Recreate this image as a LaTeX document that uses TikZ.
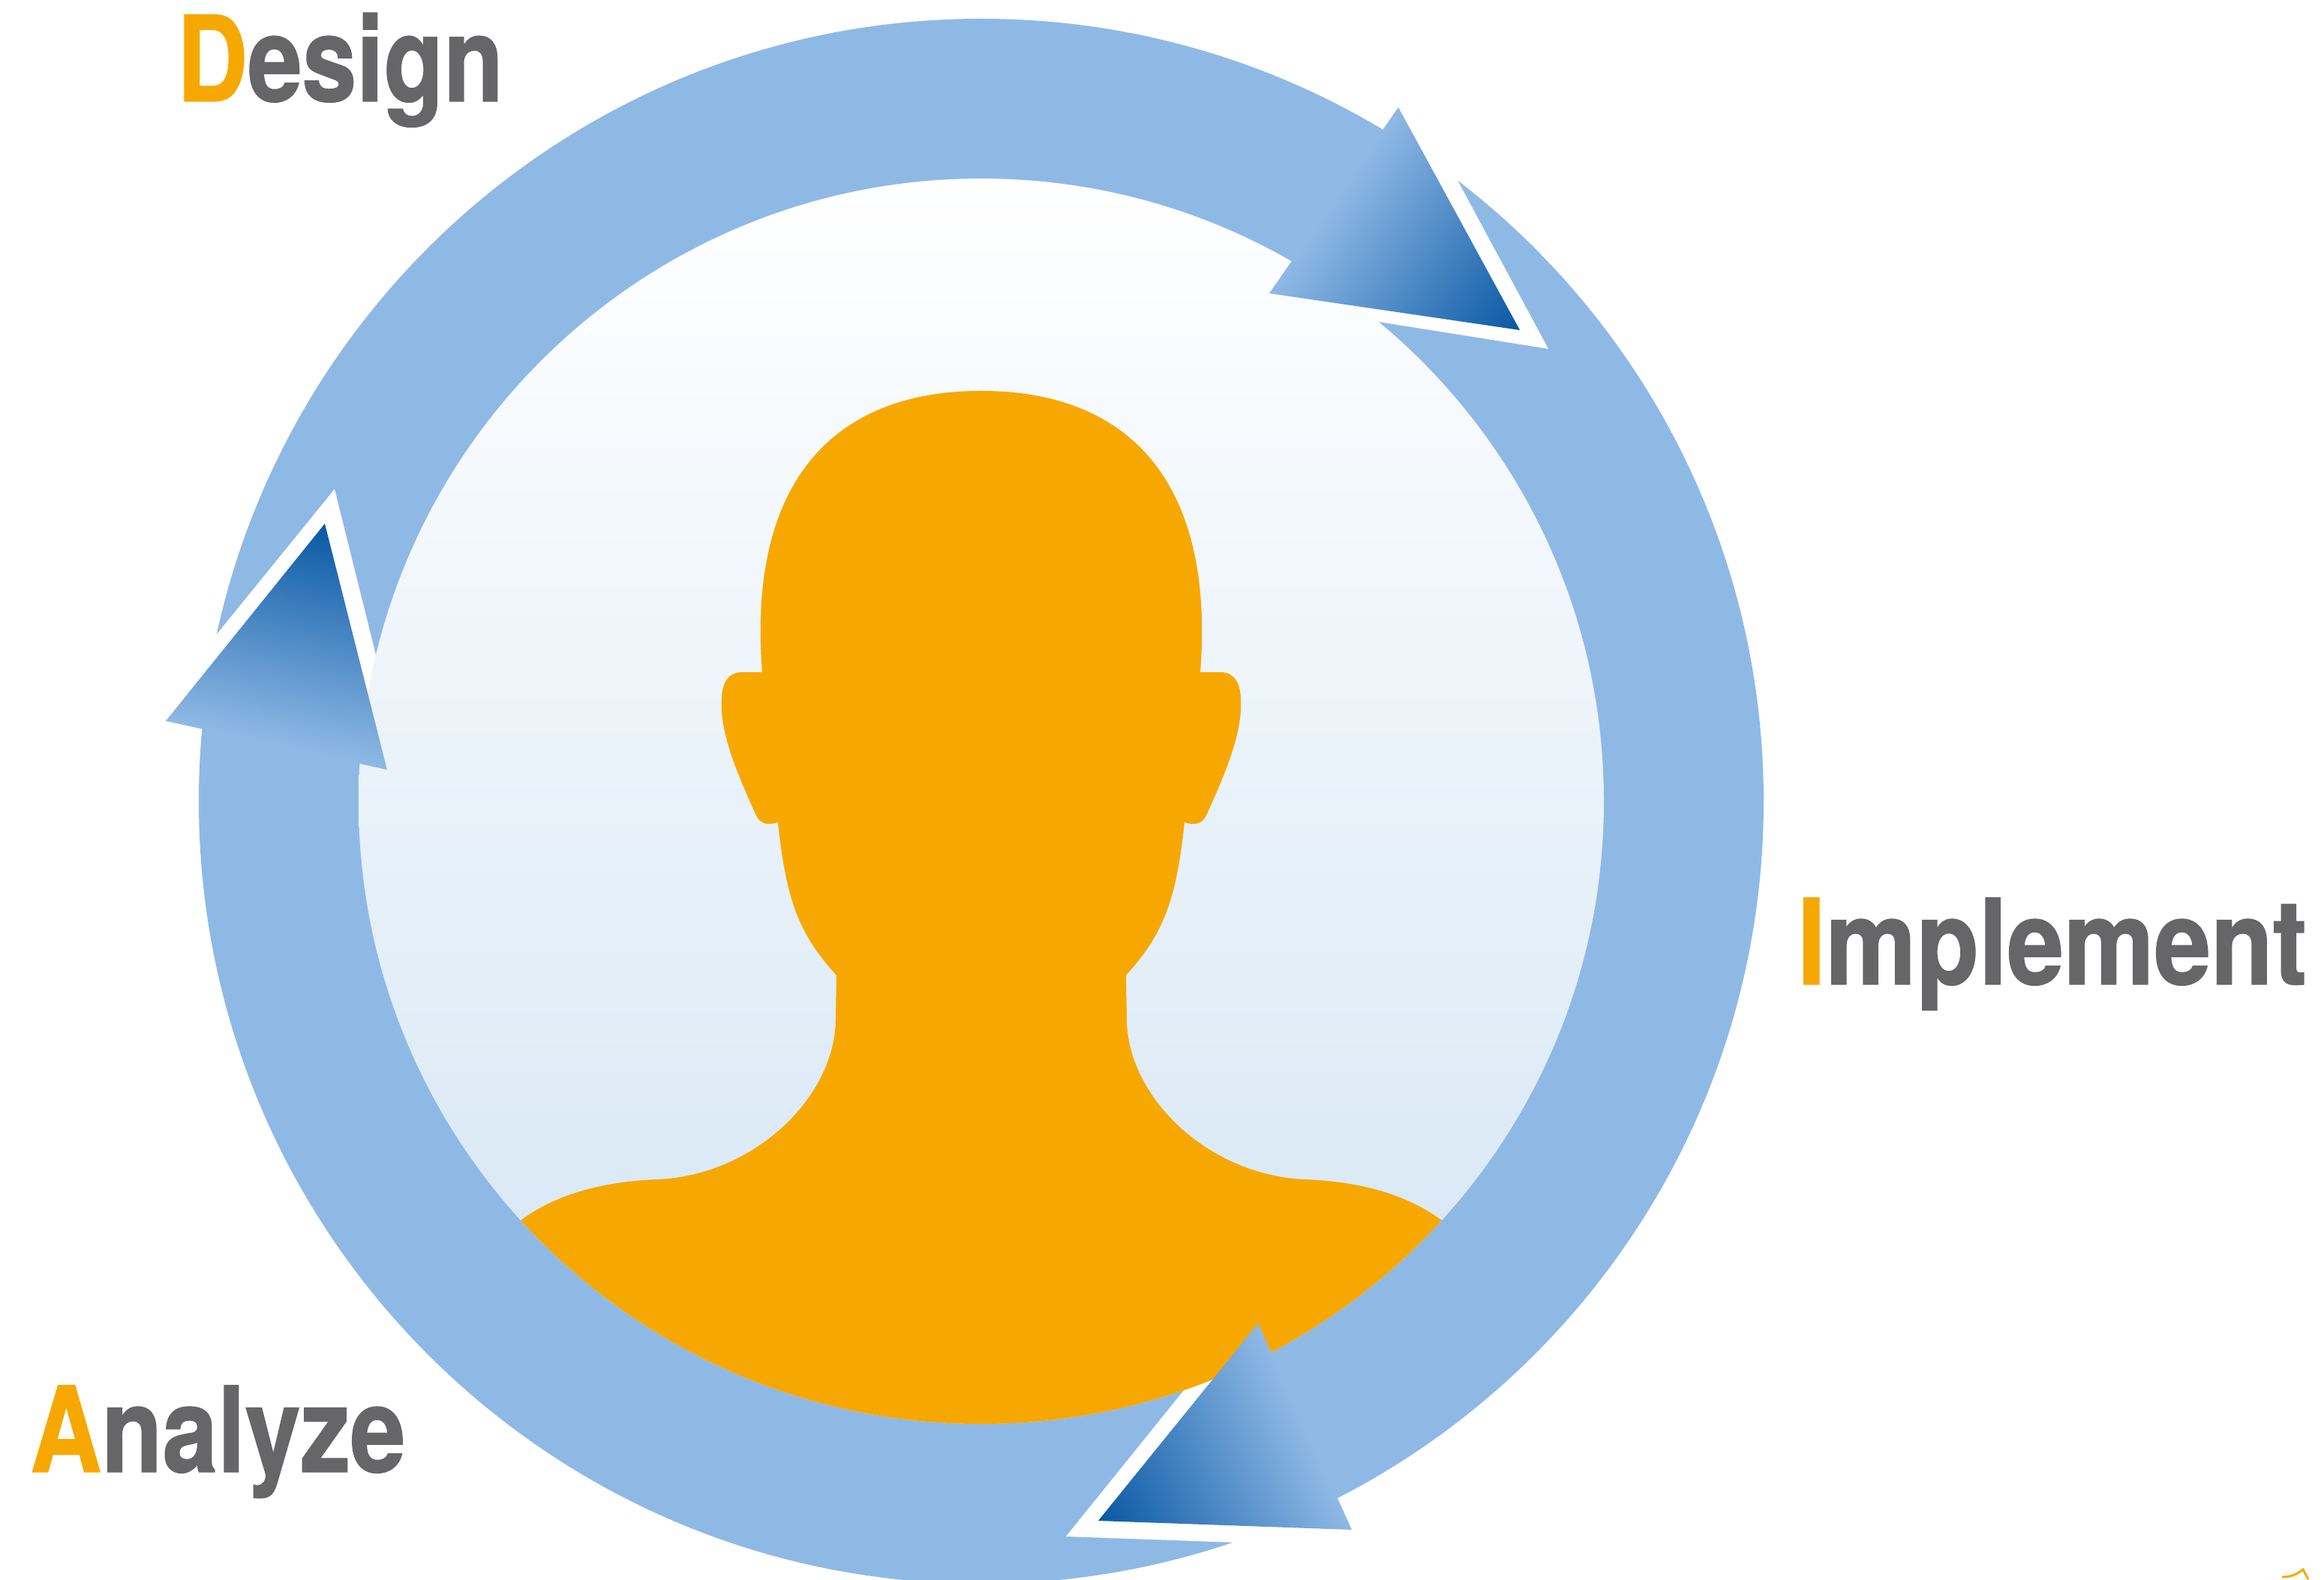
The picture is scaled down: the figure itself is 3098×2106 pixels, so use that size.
\documentclass[tikz,border=0pt]{standalone}
\usepackage{fontspec}
\newfontfamily\labelfont[BoldFeatures={FakeStretch=0.82,FakeBold=0.9}]{TeX Gyre Heros}
\definecolor{ringblue}{RGB}{143,185,229}
\definecolor{tipblue}{RGB}{8,88,164}
\definecolor{paleblue}{RGB}{211,229,244}
\definecolor{headorange}{RGB}{247,168,0}
\definecolor{labelgrey}{RGB}{102,102,104}
\pgfdeclareverticalshading{tipshade}{200bp}{color(0bp)=(tipblue); color(72.2bp)=(ringblue); color(100bp)=(ringblue)}
\newcommand{\cyclelabel}[3]{\scalebox{#1}[1]{\textcolor{headorange}{#2}#3}}
\tikzset{
    wordlabel/.style={anchor=base west,inner sep=0pt,outer sep=0pt,text=labelgrey,font=\labelfont\bfseries\fontsize{38}{38}\selectfont},
    tipgrad/.style={anchor=south,inner sep=0pt,outer sep=0pt},
    halo/.style={fill=white}
}
\begin{document}
\begin{tikzpicture}[x=0.24pt,y=-0.24pt]
    \useasboundingbox (0,0) rectangle (3098,2106);

    %Shape: Ring
    \fill[ringblue] (1308,1068) circle (1043);

    %Shape: White gaps round the arrow tips
    \fill[halo] (2064,465) -- (1890,142) -- (1868,170) -- (1750,380) -- (1700,407) -- cycle;
    \fill[halo] (1421,2048) -- (1641,1775) -- (1670,1800) -- (1770,2010) -- (1900,2065) -- cycle;
    \fill[halo] (446,652) -- (530,989) -- (490,985) -- (250,950) -- (212,940) -- cycle;

    %Shape: Inner circle
    \shade[top color=white,bottom color=paleblue] (1308,1068) circle (830);

    %Shape: Head and shoulders, one half drawn twice
    \begin{scope}
        \clip (1308,1068) circle (830);
        \foreach \flip in {1,-1} {
            \fill[headorange,shift={(1308,0)},xscale=\flip] (4,521) -- (0,521) .. controls (-195,521) and (-312,640) .. (-292,896) -- (-319,896) .. controls (-340,896) and (-346,915) .. (-346,933) .. controls (-349,980) and (-320,1042) .. (-300,1087) .. controls (-296,1095) and (-288,1102) .. (-271,1096) .. controls (-260,1200) and (-243,1245) .. (-193,1300) -- (-194,1358) .. controls (-194,1460) and (-300,1566) .. (-431,1572) .. controls (-508,1575) and (-568,1593) .. (-613,1626) -- (-700,1690) -- (-700,1950) -- (4,1950) -- cycle;
        }
    \end{scope}

    %Shape: Arrow tip, top right
    \begin{scope}
        \clip (1864,143) -- (2026,440) -- (1692,391) -- cycle;
        \node (tipdesign) [tipgrad,rotate=55.5] at (2026,440) {\pgfuseshading{tipshade}};
    \end{scope}
    %Shape: Arrow tip, bottom
    \begin{scope}
        \clip (1677,1764) -- (1802,2039) -- (1464,2027) -- cycle;
        \node (tipimplement) [tipgrad,rotate=-65.5] at (1464,2027) {\pgfuseshading{tipshade}};
    \end{scope}
    %Shape: Arrow tip, left
    \begin{scope}
        \clip (433,698) -- (516,1026) -- (221,961) -- cycle;
        \node (tipanalyze) [tipgrad,rotate=167.6] at (433,698) {\pgfuseshading{tipshade}};
    \end{scope}

    % Text Node
    \node (design) [wordlabel] at (236,135) {\cyclelabel{1.005}{D}{esign}};
    % Text Node
    \node (implement) [wordlabel] at (2396,1312) {\cyclelabel{1.045}{I}{mplement}};
    % Text Node
    \node (analyze) [wordlabel] at (40,1962) {\cyclelabel{1.02}{A}{nalyze}};

    %Curve Lines
    \draw[headorange,line width=0.7pt] (3042,2102) .. controls (3055,2102) and (3062,2098) .. (3070,2092) -- (3077,2105);
\end{tikzpicture}
\end{document}
